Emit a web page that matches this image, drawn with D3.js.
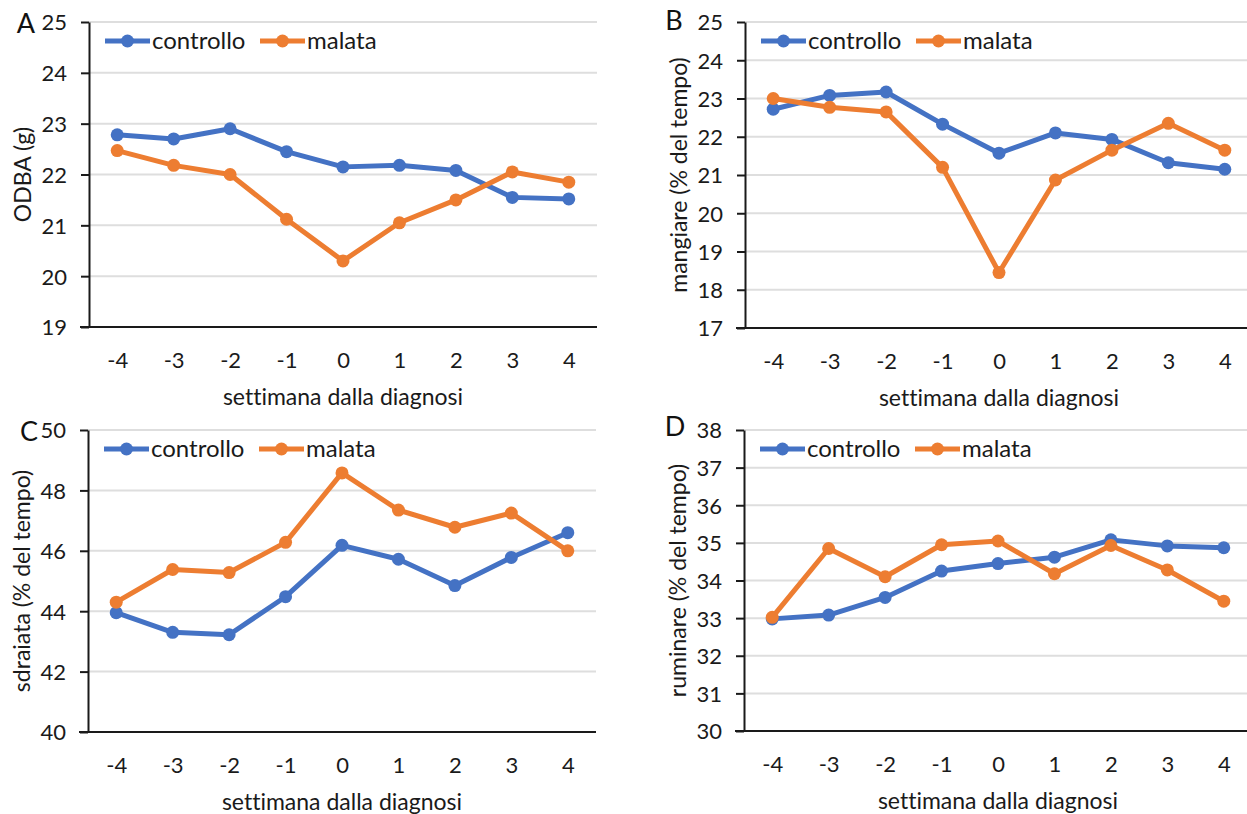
<!DOCTYPE html>
<html>
<head>
<meta charset="utf-8">
<script src="https://cdn.jsdelivr.net/npm/d3@7"></script>
<style>
	body { margin: 0; background: #fff; }
	svg { display: block; font-family: Lato, "Open Sans", sans-serif; font-variant-ligatures: none; font-feature-settings: "liga" 0; }
	.grid line { stroke: #dedede; stroke-width: 2; }
	.axis path, .axis line { stroke: #1a1a1a; stroke-width: 2; }
	.axis text { font-size: 22px; fill: #1a1a1a; font-family: Lato, sans-serif; }
	.title { font-size: 23px; fill: #1a1a1a; }
	.legend text { font-size: 24px; fill: #1a1a1a; }
	.letter { font-size: 27px; fill: #111; }
</style>
</head>
<body>
<svg id="chart" width="1247" height="814"></svg>
<script>
var weeks = ["-4", "-3", "-2", "-1", "0", "1", "2", "3", "4"];
var seriesNames = ["controllo", "malata"];
var xTitle = "settimana dalla diagnosi";

var odbaControllo = [22.78, 22.70, 22.90, 22.45, 22.15, 22.18, 22.08, 21.55, 21.52];
var odbaMalata = [22.47, 22.18, 22.00, 21.12, 20.30, 21.05, 21.50, 22.05, 21.85];
var odbaTicks = [19, 20, 21, 22, 23, 24, 25];

var mangiareControllo = [22.72, 23.08, 23.17, 22.33, 21.57, 22.10, 21.93, 21.32, 21.15];
var mangiareMalata = [23.00, 22.77, 22.65, 21.20, 18.45, 20.87, 21.65, 22.35, 21.65];
var mangiareTicks = [17, 18, 19, 20, 21, 22, 23, 24, 25];

var sdraiataControllo = [43.95, 43.30, 43.22, 44.48, 46.18, 45.72, 44.85, 45.78, 46.60];
var sdraiataMalata = [44.30, 45.38, 45.28, 46.28, 48.58, 47.35, 46.78, 47.25, 46.00];
var sdraiataTicks = [40, 42, 44, 46, 48, 50];

var ruminareControllo = [32.98, 33.08, 33.55, 34.25, 34.45, 34.62, 35.08, 34.92, 34.87];
var ruminareMalata = [33.02, 34.85, 34.10, 34.95, 35.05, 34.18, 34.93, 34.28, 33.45];
var ruminareTicks = [30, 31, 32, 33, 34, 35, 36, 37, 38];

var colors = ["#4472c4", "#ed7d31"];

// layout of the four panels
var panels = [
	{letter: "A", yTitle: "ODBA (g)", values: [odbaControllo, odbaMalata], ticks: odbaTicks,
		left: 89, top: 22, bottom: 327, letterDx: -63, letterY: 33},
	{letter: "B", yTitle: "mangiare (% del tempo)", values: [mangiareControllo, mangiareMalata], ticks: mangiareTicks,
		left: 745, top: 22, bottom: 328, letterDx: -71, letterY: 30},
	{letter: "C", yTitle: "sdraiata (% del tempo)", values: [sdraiataControllo, sdraiataMalata], ticks: sdraiataTicks,
		left: 88, top: 430, bottom: 732, letterDx: -59, letterY: 441},
	{letter: "D", yTitle: "ruminare (% del tempo)", values: [ruminareControllo, ruminareMalata], ticks: ruminareTicks,
		left: 744, top: 430, bottom: 731, letterDx: -69, letterY: 436}
];

var svg = d3.select("#chart"),
	plotWidth = 508;

panels.forEach(function(p) {
	var height = p.bottom - p.top;
	var g = svg.append("g").attr("transform", "translate(" + p.left + "," + p.top + ")");

	var x = d3.scalePoint()
		.domain(weeks)
		.range([0, plotWidth])
		.padding(0.5);

	var y = d3.scaleLinear()
		.domain(d3.extent(p.ticks))
		.range([height, 0]);

	g.append("g")
		.attr("class", "grid")
		.selectAll("line")
		.data(p.ticks.slice(1))
		.enter()
		.append("line")
		.attr("x1", 0)
		.attr("x2", plotWidth)
		.attr("y1", function(d) { return y(d); })
		.attr("y2", function(d) { return y(d); });

	g.append("g")
		.attr("class", "axis axis--x")
		.attr("transform", "translate(0," + height + ")")
		.call(d3.axisBottom(x).tickSize(0).tickSizeOuter(0).tickPadding(25))
		.select(".domain").attr("d", "M-9,0H" + plotWidth);

	g.append("g")
		.attr("class", "axis axis--y")
		.call(d3.axisLeft(y).tickValues(p.ticks).tickFormat(d3.format("d"))
			.tickSize(8).tickSizeOuter(0).tickPadding(14));

	g.selectAll(".axis--y .tick text").attr("dy", "0.36em");

	g.append("text")
		.attr("class", "title")
		.attr("x", plotWidth / 2)
		.attr("y", height + 78)
		.attr("text-anchor", "middle")
		.text(xTitle);

	g.append("text")
		.attr("class", "title")
		.attr("transform", "translate(-58," + (height / 2) + ") rotate(-90)")
		.attr("text-anchor", "middle")
		.text(p.yTitle);

	svg.append("text")
		.attr("class", "letter")
		.attr("x", p.left + p.letterDx)
		.attr("y", p.letterY)
		.attr("text-anchor", "middle")
		.text(p.letter);

	var line = d3.line()
		.x(function(d, i) { return x(weeks[i]); })
		.y(function(d) { return y(d); });

	p.values.forEach(function(vals, s) {
		g.append("path")
			.datum(vals)
			.attr("fill", "none")
			.attr("stroke", colors[s])
			.attr("stroke-width", 5)
			.attr("stroke-linejoin", "round")
			.attr("d", line);

		g.append("g")
			.selectAll("circle")
			.data(vals)
			.enter()
			.append("circle")
			.attr("cx", function(d, i) { return x(weeks[i]); })
			.attr("cy", function(d) { return y(d); })
			.attr("r", 6.5)
			.attr("fill", colors[s]);
	});

	// legend
	var legend = g.append("g")
		.attr("class", "legend")
		.attr("transform", "translate(16,19)");

	seriesNames.forEach(function(name, s) {
		var item = legend.append("g").attr("transform", "translate(" + (s * 155) + ",0)");
		item.append("line")
			.attr("x1", 0)
			.attr("x2", 45)
			.attr("stroke", colors[s])
			.attr("stroke-width", 5);
		item.append("circle")
			.attr("cx", 22.5)
			.attr("r", 6.5)
			.attr("fill", colors[s]);
		item.append("text")
			.attr("x", 47)
			.attr("dy", "0.35em")
			.text(name);
	});
});
</script>
</body>
</html>
